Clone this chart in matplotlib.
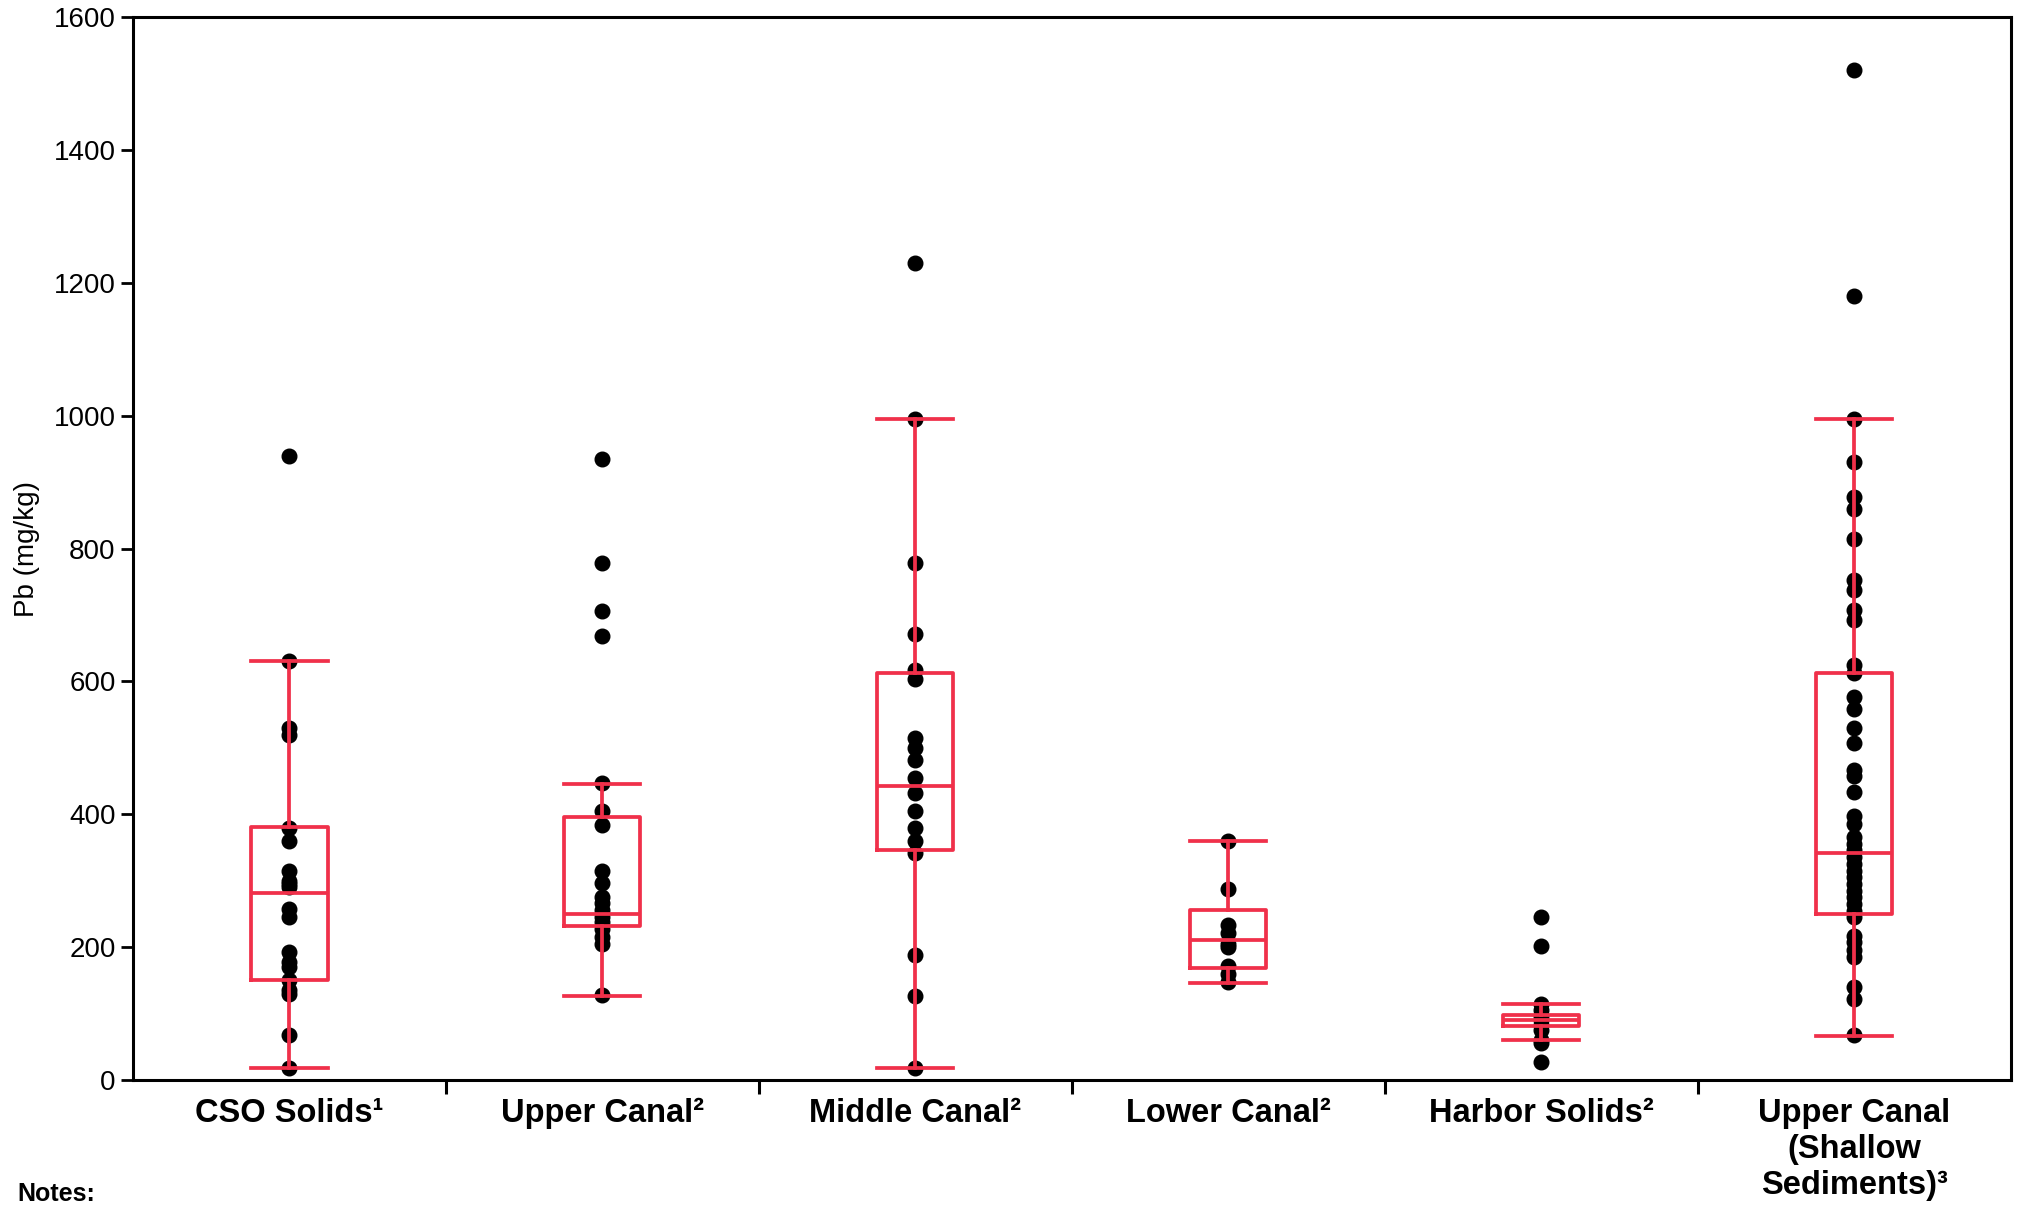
import matplotlib.pyplot as plt
import numpy as np

# site groups, left to right
categories = ["CSO Solids\u00b9", "Upper Canal\u00b2", "Middle Canal\u00b2",
              "Lower Canal\u00b2", "Harbor Solids\u00b2",
              "Upper Canal\n(Shallow\nSediments)\u00b3"]

# Pb results (mg/kg)
cso_solids = [940, 630, 530, 520, 380, 360, 315, 300, 295, 290, 258, 245,
              192, 177, 170, 150, 135, 130, 68, 18]
upper_canal = [935, 778, 706, 668, 447, 405, 384, 315, 296, 276, 266, 256,
               246, 238, 228, 215, 204, 128]
middle_canal = [1230, 995, 778, 672, 617, 603, 515, 500, 482, 455, 432, 405,
                380, 360, 342, 188, 127, 18]
lower_canal = [360, 287, 233, 222, 205, 200, 172, 160, 147]
harbor_solids = [245, 201, 115, 105, 97, 90, 83, 75, 60, 55, 27]
upper_shallow = [1520, 1180, 995, 930, 878, 860, 815, 752, 737, 708, 693, 625,
                 613, 577, 558, 530, 508, 467, 457, 433, 397, 385, 366, 356,
                 346, 335, 325, 315, 305, 295, 285, 275, 265, 255, 245, 217,
                 207, 195, 185, 140, 122, 68]

# box summary (as drawn in the figure)
q1s = [150, 232, 346, 168, 82, 250]
medians = [282, 250, 442, 211, 90, 342]
q3s = [381, 396, 613, 256, 98, 612]
whis_lo = [18, 127, 18, 146, 60, 66]
whis_hi = [630, 445, 995, 360, 114, 995]

groups = [cso_solids, upper_canal, middle_canal, lower_canal,
          harbor_solids, upper_shallow]

RED = "#F0304A"

fig = plt.figure(figsize=(20.21, 12.07), dpi=100)
ax = fig.add_axes([0.0658, 0.1052, 0.9292, 0.8807])

for i, vals in enumerate(groups):
    ax.plot(np.full(len(vals), i), vals, "o", color="black",
            markersize=10.5, zorder=2, clip_on=False)

stats = []
for i in range(len(groups)):
    stats.append({"q1": q1s[i], "med": medians[i], "q3": q3s[i],
                  "whislo": whis_lo[i], "whishi": whis_hi[i], "fliers": []})

line_kw = dict(color=RED, linewidth=2.7)
bp = ax.bxp(stats, positions=range(len(groups)), widths=0.243,
            capwidths=0.243, showfliers=False, patch_artist=False,
            boxprops=line_kw, medianprops=line_kw, whiskerprops=line_kw,
            capprops=line_kw, manage_ticks=False, zorder=3)

ax.set_xlim(-0.5, 5.5)
ax.set_ylim(0, 1600)
ax.set_yticks(np.arange(0, 1601, 200))
ax.tick_params(axis="y", labelsize=20, length=9, width=2, direction="out")
for lab in ax.get_yticklabels():
    lab.set_family("Liberation Sans")

# category labels at centres, ticks at boundaries
ax.set_xticks(range(len(groups)))
ax.set_xticklabels(categories, fontsize=23.5, fontweight="bold",
                   family="Liberation Sans", linespacing=1.2, va="top")
ax.tick_params(axis="x", which="major", length=0, pad=13)
ax.set_xticks(np.arange(0.5, 5.5, 1), minor=True)
ax.tick_params(axis="x", which="minor", length=10, width=2.2, direction="out")

for sp in ax.spines.values():
    sp.set_linewidth(2.2)

ax.set_ylabel("Pb (mg/kg)", fontsize=20, family="Liberation Sans", labelpad=10)

fig.text(0.0085, 0.001, "Notes:", fontsize=18, fontweight="bold",
         family="Liberation Sans", va="bottom", ha="left")

fig.savefig("out.png", dpi=100)
